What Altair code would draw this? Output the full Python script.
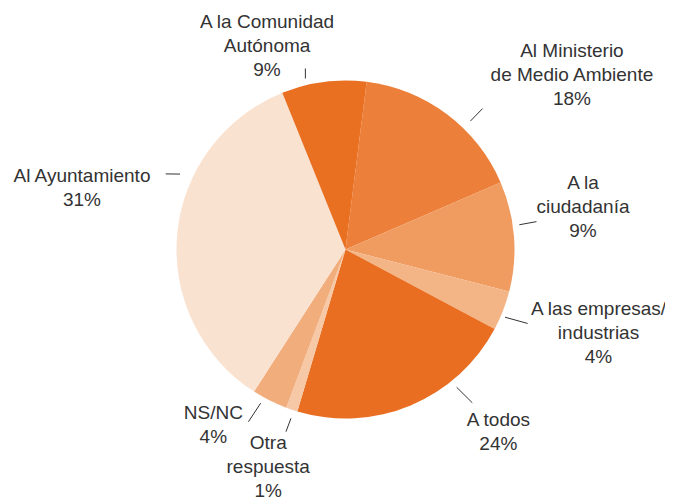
import math
import altair as alt
import pandas as pd

# Slices, clockwise from just right of 12 o'clock
categories = [
    "Al Ministerio de Medio Ambiente",
    "A la ciudadanía",
    "A las empresas/industrias",
    "A todos",
    "Otra respuesta",
    "NS/NC",
    "Al Ayuntamiento",
    "A la Comunidad Autónoma",
]
# share of the circle as drawn (percent)
shares = [16.5, 10.5, 3.8, 21.8, 1.1, 3.4, 34.8, 8.1]
# printed labels
label_texts = [
    "Al Ministerio\nde Medio Ambiente\n18%",
    "A la\nciudadanía\n9%",
    "A las empresas/\nindustrias\n4%",
    "A todos\n24%",
    "Otra\nrespuesta\n1%",
    "NS/NC\n4%",
    "Al Ayuntamiento\n31%",
    "A la Comunidad\nAutónoma\n9%",
]
colors = ["#EC803A", "#F09B60", "#F4B586", "#E96E21",
          "#F7C8A6", "#F2AD7C", "#FAE2D1", "#E96F21"]

# layout of labels (first line) and leader ticks (polar: degrees from north, pixels)
start_deg = 7.2
label_deg = [48.7, 74.3, 103.3, 138.1, 201.8, 218.9, 285.6, 341.0]
label_r = [301.4, 246.7, 260.0, 228.9, 208.1, 210.5, 273.6, 241.0]
lead_a1 = [44.2, 81.9, 113.0, 141.1, 197.9, 208.9, 294.5, 346.8]
lead_r1 = [179.3, 175.6, 173.3, 177.1, 177.4, 175.6, 181.9, 175.6]
lead_a2 = [44.2, 81.7, 112.1, 140.4, 198.1, 209.4, 292.8, 347.5]
lead_r2 = [196.6, 193.0, 196.6, 198.9, 191.7, 197.7, 195.0, 185.4]

pie_df = pd.DataFrame({"cat": categories, "share": shares, "idx": list(range(len(categories)))})
lab_df = pd.DataFrame({
    "cat": categories,
    "label": label_texts,
    "trad": [math.radians(d) for d in label_deg],
    "tr": label_r,
    "a1": lead_a1, "r1": lead_r1, "a2": lead_a2, "r2": lead_r2,
})

start = math.radians(start_deg)

pie = alt.Chart(pie_df).mark_arc(outerRadius=169).encode(
    theta=alt.Theta("share:Q", stack=True,
                    scale=alt.Scale(range=[start, start + 2 * math.pi])),
    color=alt.Color("cat:N", scale=alt.Scale(domain=categories, range=colors), legend=None),
    order=alt.Order("idx:Q"),
)

leaders = alt.Chart(lab_df).transform_calculate(
    px1="width/2 + datum.r1*sin(datum.a1*PI/180)",
    py1="height/2 - datum.r1*cos(datum.a1*PI/180)",
    px2="width/2 + datum.r2*sin(datum.a2*PI/180)",
    py2="height/2 - datum.r2*cos(datum.a2*PI/180)",
).mark_rule(color="#333333", strokeWidth=1).encode(
    x=alt.X("px1:Q", scale=None),
    y=alt.Y("py1:Q", scale=None),
    x2=alt.X2("px2:Q"),
    y2=alt.Y2("py2:Q"),
)

labels = alt.Chart(lab_df).mark_text(
    lineBreak="\n", font="Liberation Sans", fontSize=19, lineHeight=24,
    color="#333333", align="center", baseline="middle",
).encode(
    theta=alt.Theta("trad:Q", scale=None, stack=None),
    radius=alt.Radius("tr:Q", scale=None),
    text="label:N",
)

chart = alt.layer(pie, leaders, labels).resolve_scale(
    theta="independent", radius="independent"
).properties(
    width=639, height=483,
    padding={"left": 18, "top": 0, "right": 0, "bottom": 16},
    autosize="none",
).configure_view(stroke=None)

chart.save("out.html", embed_options={"renderer": "svg", "actions": False})
